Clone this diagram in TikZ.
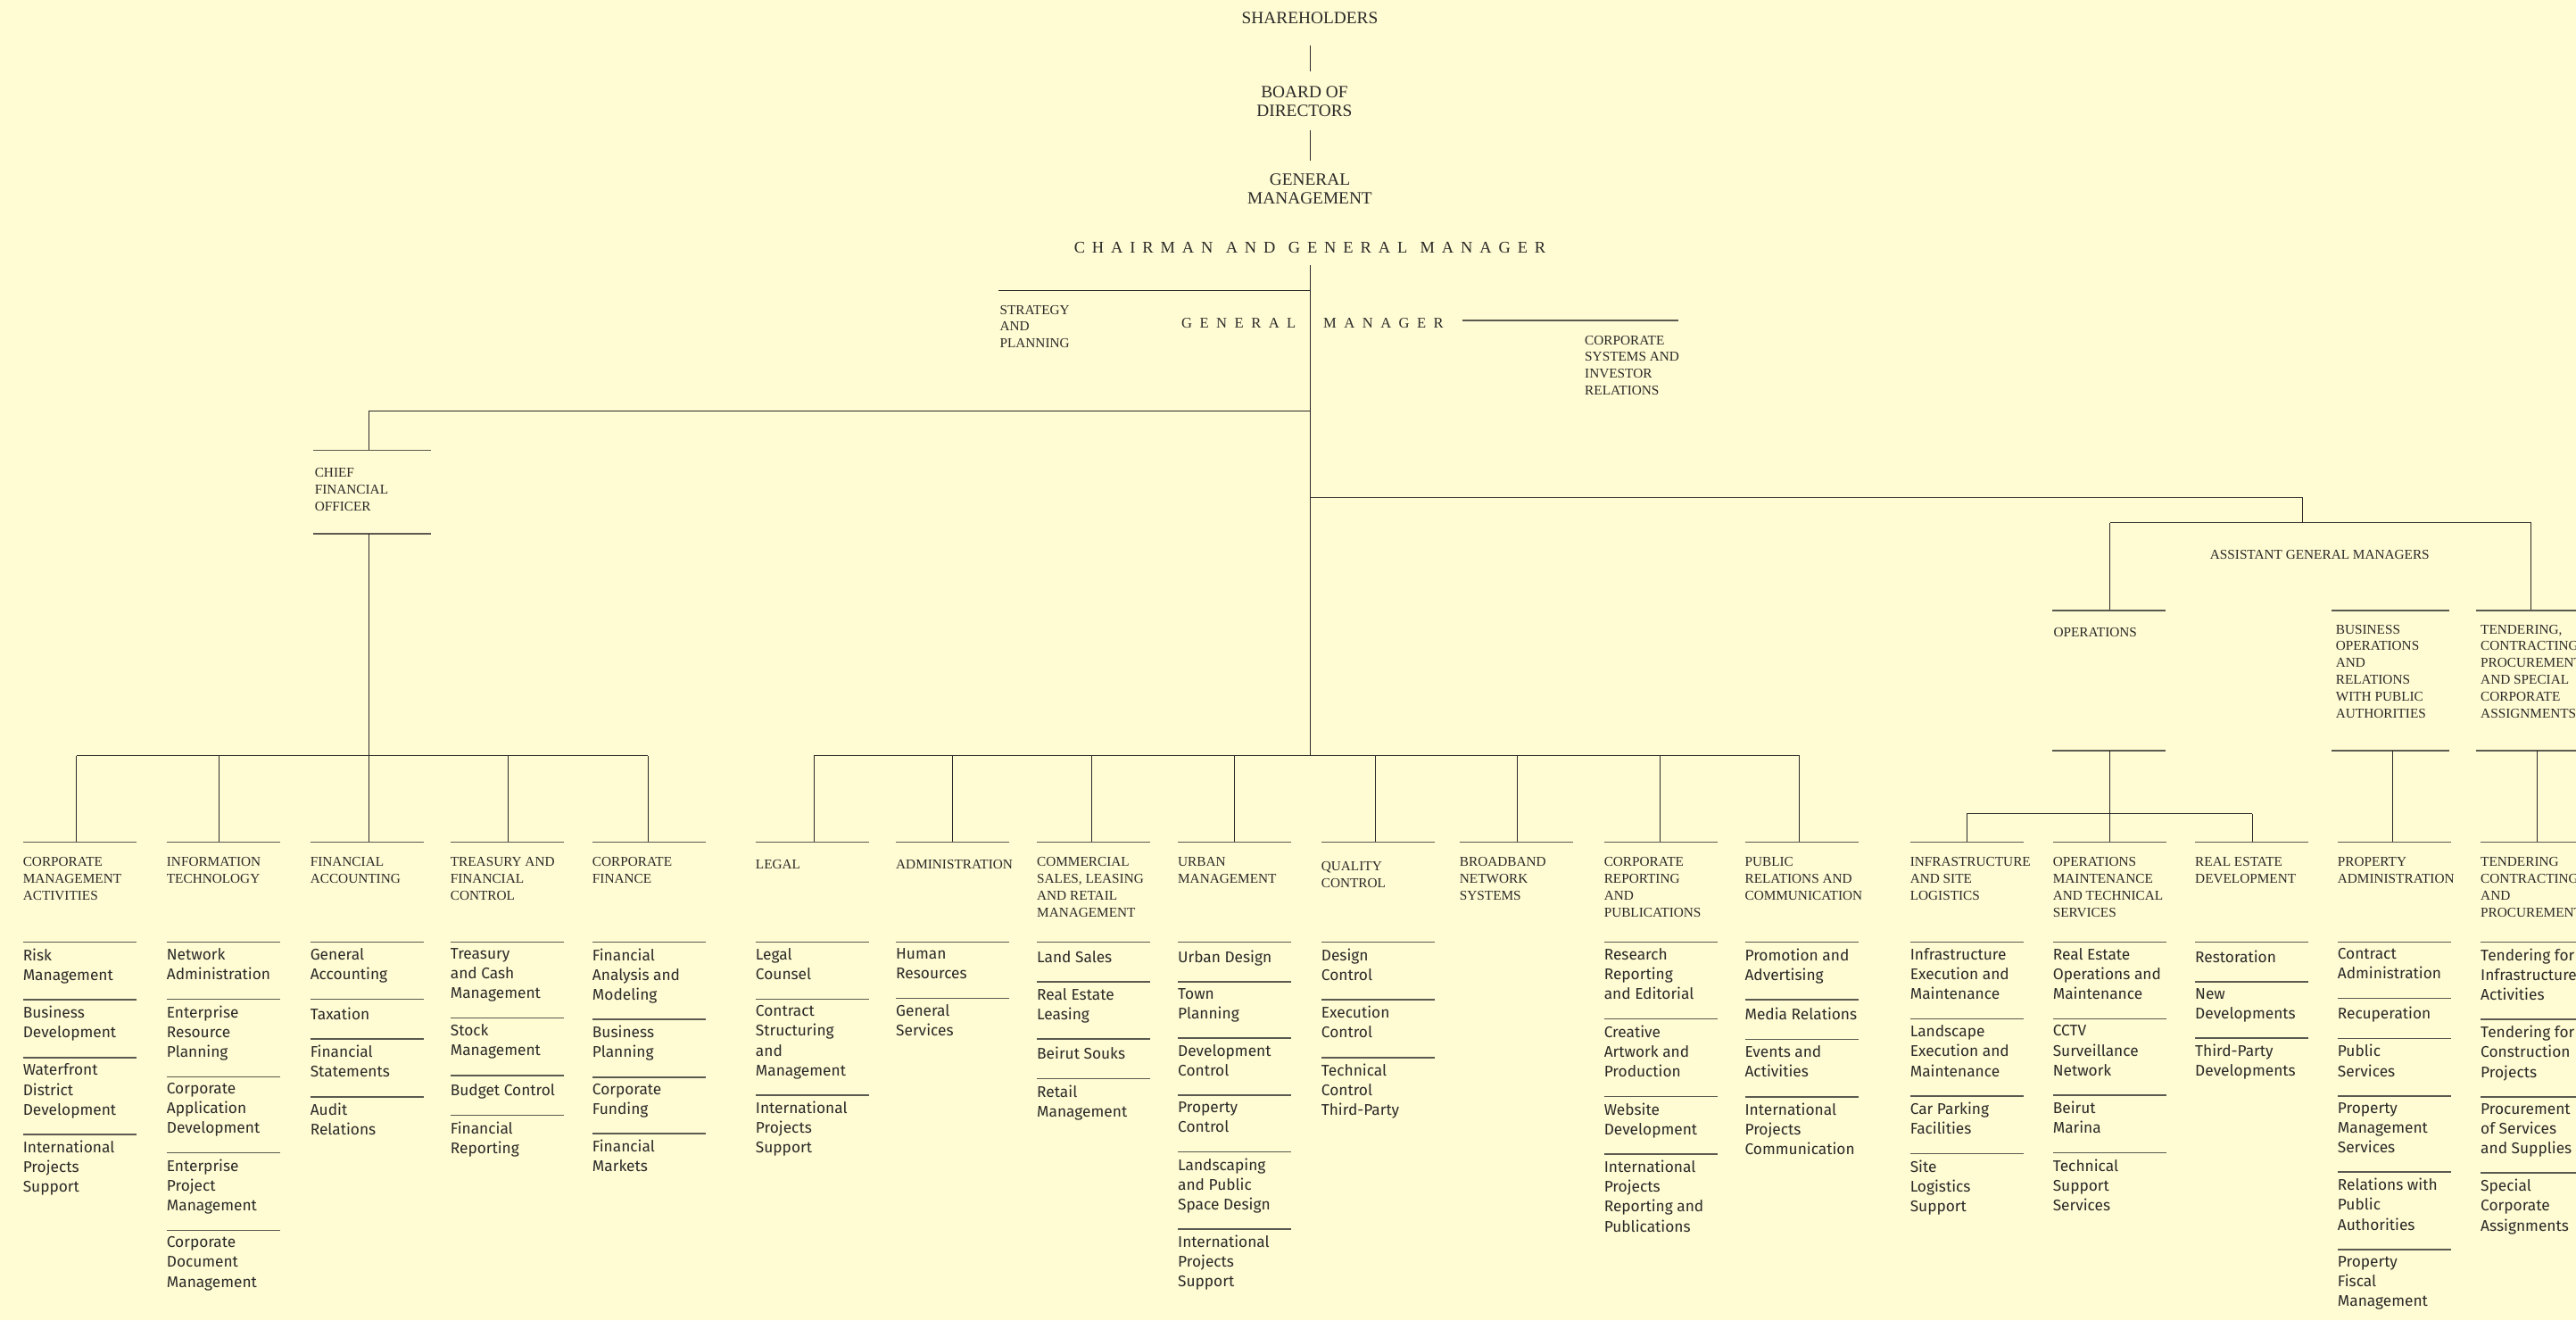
\documentclass[tikz,border=0pt]{standalone}
\usepackage{fontspec}
\setmainfont{Liberation Serif}
\newfontfamily\subf{Fira Sans}
\definecolor{bg}{HTML}{FFFBD3}
\definecolor{ink}{HTML}{2A2A28}
\definecolor{rulec}{HTML}{5A5A50}
\tikzset{
  conn/.style={draw=ink, line width=0.55pt},
  rulebar/.style={draw=rulec, line width=0.8pt},
  head/.style={anchor=north west, inner sep=0pt, outer sep=0pt, align=left, text=ink, yshift=-1.8pt,
    font=\fontsize{8.3}{10.2}\selectfont, execute at begin node=\strut, execute at end node=\strut},
  subitem/.style={anchor=north west, inner sep=0pt, outer sep=0pt, align=left, text=ink,
    font=\subf\fontsize{9.4}{12}\selectfont, execute at begin node=\strut, execute at end node=\strut},
  bigtxt/.style={inner sep=0pt, outer sep=0pt, align=center, text=ink, font=\fontsize{10.5}{11.5}\selectfont},
  plainlbl/.style={inner sep=0pt, outer sep=0pt, text=ink, font=\fontsize{8.3}{10.2}\selectfont},
  anchorpt/.style={inner sep=0pt, outer sep=0pt, minimum size=0pt},
}
\newcommand\lsp{\hspace{4.3pt}}
\newcommand\lsw{\hspace{7.8pt}}
\newcommand\lsq{\hspace{4.6pt}}
% department column: name, left x, header, drop x
\newcommand{\dept}[4]{%
  \draw[rulebar] (#2,512.4) -- ++(69,0);
  \coordinate (#1-top) at (#4,512.4);
  \node[head] (#1) at (#2,520) {#3};
}
% list of sub-units: name, left x, items
\newcommand{\subitems}[3]{%
  \node[anchorpt] (#1-0) at (#2,564.9) {};
  \foreach \itm [count=\kk, remember=\kk as \pkk (initially 0)] in {#3} {
    \path (#1-\pkk.south west) ++(0,8.3) coordinate (#1-b\kk);
    \draw[rulebar] (#1-b\kk) -- ++(69,0);
    \path (#1-b\kk) ++(0,3.9) node[subitem] (#1-\kk) {\itm};
  }
}
\begin{document}
\begin{tikzpicture}[x=1pt,y=-1pt]
\useasboundingbox (0,0) rectangle (1568,803.3);
\clip (0,0) rectangle (1568,803.3);
\fill[bg] (0,0) rectangle (1568,803.3);

% ---------- top ----------
\node[bigtxt] (sh) at (797.3,10.9) {SHAREHOLDERS};
\node[bigtxt] (bod) at (794,61.75) {BOARD OF\\DIRECTORS};
\node[bigtxt] (gmt) at (797.3,115) {GENERAL\\MANAGEMENT};
\node[inner sep=0pt, outer sep=0pt, text=ink, font=\fontsize{10}{12}\selectfont] (cgm) at (797.3,150.8)
  {C\lsp H\lsp A\lsp I\lsp R\lsp M\lsp A\lsp N\lsw A\lsp N\lsp D\lsw G\lsp E\lsp N\lsp E\lsp R\lsp A\lsp L\lsw M\lsp A\lsp N\lsp A\lsp G\lsp E\lsp R};
\node[inner sep=0pt, outer sep=0pt, text=ink, font=\fontsize{9}{11}\selectfont] (gmg) at (754,196.4)
  {G\lsq E\lsq N\lsq E\lsq R\lsq A\lsq L};
\node[inner sep=0pt, outer sep=0pt, text=ink, font=\fontsize{9}{11}\selectfont] (gmm) at (842.1,196.4)
  {M\lsq A\lsq N\lsq A\lsq G\lsq E\lsq R};

\draw[conn] (sh.south) ++(0,13.1) -- ++(0,16);
\draw[conn] (gmt.north) ++(0,-7.9) -- ++(0,-18.7);
\coordinate (hub) at (797.3,460);
\draw[conn] (cgm.south) ++(0,7.1) -- (hub);

% strategy
\coordinate (stratj) at (797.3,176.9);
\coordinate (strat-l) at (608,176.9);
\draw[conn] (strat-l) -- (stratj);
\node[head] (strat) at (608.6,183.9) {STRATEGY\\AND\\PLANNING};
% corporate systems
\coordinate (csir-l) at (889.9,195);
\coordinate (csir-r) at (1021.5,195);
\draw[rulebar] (csir-l) -- (csir-r);
\node[head] (csir) at (964.7,202.4) {CORPORATE\\SYSTEMS AND\\INVESTOR\\RELATIONS};

% CFO
\coordinate (cfoj) at (797.3,249.9);
\coordinate (cfo-t) at (224.6,273.9);
\coordinate (cfo-b) at (224.6,324.8);
\draw[conn] (cfoj) -| (cfo-t);
\draw[rulebar] (190.6,273.9) -- (262.1,273.9);
\draw[rulebar] (190.6,324.8) -- (262.1,324.8);
\node[head] (cfo) at (191.6,283.1) {CHIEF\\FINANCIAL\\OFFICER};

% AGM
\coordinate (agmj) at (797.3,302.7);
\coordinate (agmbus) at (1401.4,318.1);
\coordinate (ops-t) at (1284.4,371.6);
\coordinate (tend-t) at (1540.7,371.6);
\draw[conn] (agmj) -| (agmbus);
\draw[conn] (ops-t |- agmbus) -- (tend-t |- agmbus);
\draw[conn] (ops-t |- agmbus) -- (ops-t);
\draw[conn] (tend-t |- agmbus) -- (tend-t);
\node[plainlbl] (agm) at (1412,337.7) {ASSISTANT GENERAL MANAGERS};

\draw[rulebar] (1249.4,371.6) -- (1318.3,371.6);
\draw[rulebar] (1249.4,456.7) -- (1318.3,456.7);
\node[head] (ops) at (1250,378.4) {OPERATIONS};
\draw[rulebar] (1419.2,371.6) -- (1491,371.6);
\draw[rulebar] (1419.2,456.7) -- (1491,456.7);
\node[head] (busop) at (1421.8,378.4) {BUSINESS\\OPERATIONS\\AND\\RELATIONS\\WITH PUBLIC\\AUTHORITIES};
\draw[rulebar] (1507,371.6) -- (1580,371.6);
\draw[rulebar] (1507,456.7) -- (1580,456.7);
\node[head] (tend) at (1510,378.4) {TENDERING,\\CONTRACTING,\\PROCUREMENT\\AND SPECIAL\\CORPORATE\\ASSIGNMENTS};

% ---------- departments ----------
\dept{cma}{14}{CORPORATE\\MANAGEMENT\\ACTIVITIES}{46.6}
\subitems{cma}{14}{{Risk\\Management},{Business\\Development},{Waterfront\\District\\Development},{International\\Projects\\Support}}
\dept{it}{101.5}{INFORMATION\\TECHNOLOGY}{133.4}
\subitems{it}{101.5}{{Network\\Administration},{Enterprise\\Resource\\Planning},{Corporate\\Application\\Development},{Enterprise\\Project\\Management},{Corporate\\Document\\Management}}
\dept{fa}{188.9}{FINANCIAL\\ACCOUNTING}{224.6}
\subitems{fa}{188.9}{{General\\Accounting},{Taxation},{Financial\\Statements},{Audit\\Relations}}
\dept{tfc}{274.2}{TREASURY AND\\FINANCIAL\\CONTROL}{309.4}
\subitems{tfc}{274.2}{{Treasury\\and Cash\\Management},{Stock\\Management},{Budget Control},{Financial\\Reporting}}
\dept{cf}{360.6}{CORPORATE\\FINANCE}{394.5}
\subitems{cf}{360.6}{{Financial\\Analysis and\\Modeling},{Business\\Planning},{Corporate\\Funding},{Financial\\Markets}}

\dept{legal}{460}{LEGAL}{495.5}
\subitems{legal}{460}{{Legal\\Counsel},{Contract\\Structuring\\and\\Management},{International\\Projects\\Support}}
\dept{adm}{545.4}{ADMINISTRATION}{580}
\subitems{adm}{545.4}{{Human\\Resources},{General\\Services}}
\dept{csl}{631.2}{COMMERCIAL\\SALES, LEASING\\AND RETAIL\\MANAGEMENT}{664.5}
\subitems{csl}{631.2}{{Land Sales},{Real Estate\\Leasing},{Beirut Souks},{Retail\\Management}}
\dept{urb}{717}{URBAN\\MANAGEMENT}{751.2}
\subitems{urb}{717}{{Urban Design},{Town\\Planning},{Development\\Control},{Property\\Control},{Landscaping\\and Public\\Space Design},{International\\Projects\\Support}}
\draw[rulebar] (804.3,512.4) -- ++(69,0);
\coordinate (qc-top) at (837,512.4);
\node[head] (qc) at (804.3,522.7) {QUALITY\\CONTROL};
\subitems{qc}{804.3}{{Design\\Control},{Execution\\Control},{Technical\\Control\\Third-Party}}
\dept{bb}{888.5}{BROADBAND\\NETWORK\\SYSTEMS}{923.7}
\dept{crp}{976.4}{CORPORATE\\REPORTING\\AND\\PUBLICATIONS}{1010.5}
\subitems{crp}{976.4}{{Research\\Reporting\\and Editorial},{Creative\\Artwork and\\Production},{Website\\Development},{International\\Projects\\Reporting and\\Publications}}
\dept{pr}{1062.1}{PUBLIC\\RELATIONS AND\\COMMUNICATION}{1095.3}
\subitems{pr}{1062.1}{{Promotion and\\Advertising},{Media Relations},{Events and\\Activities},{International\\Projects\\Communication}}

\dept{isl}{1162.7}{INFRASTRUCTURE\\AND SITE\\LOGISTICS}{1197.2}
\subitems{isl}{1162.7}{{Infrastructure\\Execution and\\Maintenance},{Landscape\\Execution and\\Maintenance},{Car Parking\\Facilities},{Site\\Logistics\\Support}}
\dept{omt}{1249.6}{OPERATIONS\\MAINTENANCE\\AND TECHNICAL\\SERVICES}{1284.4}
\subitems{omt}{1249.6}{{Real Estate\\Operations and\\Maintenance},{CCTV\\Surveillance\\Network},{Beirut\\Marina},{Technical\\Support\\Services}}
\dept{red}{1336.2}{REAL ESTATE\\DEVELOPMENT}{1371}
\subitems{red}{1336.2}{{Restoration},{New\\Developments},{Third-Party\\Developments}}
\dept{pad}{1422.9}{PROPERTY\\ADMINISTRATION}{1456.1}
\subitems{pad}{1422.9}{{Contract\\Administration},{Recuperation},{Public\\Services},{Property\\Management\\Services},{Relations with\\Public\\Authorities},{Property\\Fiscal\\Management}}
\dept{tcp}{1510}{TENDERING\\CONTRACTING\\AND\\PROCUREMENT}{1544.4}
\subitems{tcp}{1510}{{Tendering for\\Infrastructure\\Activities},{Tendering for\\Construction\\Projects},{Procurement\\of Services\\and Supplies},{Special\\Corporate\\Assignments}}

% ---------- buses ----------
\coordinate (cfobus) at (224.6,460);
\draw[conn] (cfo-b) -- (cfobus);
\draw[conn] (cma-top |- cfobus) -- (cf-top |- cfobus);
\foreach \d in {cma,it,fa,tfc,cf} \draw[conn] (\d-top |- cfobus) -- (\d-top);

\draw[conn] (legal-top |- hub) -- (pr-top |- hub);
\foreach \d in {legal,adm,csl,urb,qc,bb,crp,pr} \draw[conn] (\d-top |- hub) -- (\d-top);

\coordinate (ops-b) at (1284.4,456.7);
\coordinate (opsbus) at (1284.4,495.2);
\draw[conn] (ops-b) -- (omt-top);
\draw[conn] (isl-top |- opsbus) -- (red-top |- opsbus);
\foreach \d in {isl,red} \draw[conn] (\d-top |- opsbus) -- (\d-top);
\coordinate (bus-b) at (1456.1,456.7);
\draw[conn] (bus-b) -- (pad-top);
\coordinate (tend-b) at (1544.4,456.7);
\draw[conn] (tend-b) -- (tcp-top);
\end{tikzpicture}
\end{document}
